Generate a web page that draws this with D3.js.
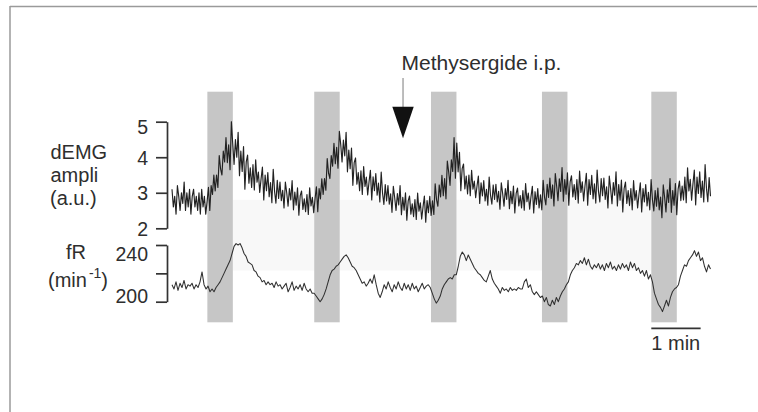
<!DOCTYPE html>
<html>
<head>
<meta charset="utf-8">
<script src="https://cdn.jsdelivr.net/npm/d3@7"></script>
<style>
  html, body { margin: 0; padding: 0; background: #ffffff; }
  svg { display: block; font-family: "Liberation Sans", Arial, Helvetica, sans-serif; }
</style>
</head>
<body>
<svg id="chart" width="758" height="412"></svg>
<script>
// ---------------- data ----------------
const recordingSeconds = 655;
const stimStart = [43, 173, 315, 450, 583];   // seconds
const stimDuration = 31;                      // seconds
const drugTime = 281;                         // seconds
const drugLabel = "Methysergide i.p.";
const bandStartTime = 74;
const bandEndTime = 583;
const scaleBarStart = 583;
const scaleBarSeconds = 60;
const scaleBarLabel = "1 min";

const emgTicks = [2, 3, 4, 5];
const emgTickLabels = ["2", "3", "4", "5"];
const fRTicks = [200, 220, 240];
const fRTickLabels = ["200", "", "240"];

// dEMG amplitude (a.u.), uniformly sampled over the recording
const emgValues = [
  3.1, 2.6, 2.9, 2.4, 3.2, 2.9, 2.5, 3.0, 2.7, 3.3, 2.5, 3.0, 2.6, 3.1, 2.4, 2.9, 3.1, 2.6, 2.9, 2.5,
  3.0, 2.4, 3.1, 2.6, 2.9, 2.4, 2.75, 3.15, 2.5, 3.2, 2.95, 3.5, 3.05, 3.5, 3.15, 4.05, 3.67, 3.5, 4.17, 3.87,
  4.55, 3.85, 4.35, 3.65, 5.0, 4.38, 3.8, 4.5, 4.0, 4.7, 3.48, 4.17, 3.6, 4.3, 3.1, 3.87, 4.06, 3.27, 3.7, 3.15,
  3.79, 3.08, 3.93, 3.3, 3.58, 3.01, 3.39, 3.72, 2.8, 3.5, 3.06, 3.57, 2.89, 3.29, 2.72, 3.66, 3.04, 2.71, 3.35, 2.84,
  3.3, 2.78, 3.07, 2.57, 3.3, 3.0, 2.62, 3.12, 2.8, 3.34, 2.52, 3.02, 2.65, 3.14, 2.37, 2.92, 3.05, 2.53, 2.83, 2.47,
  2.95, 2.39, 3.14, 2.63, 2.87, 2.44, 2.83, 3.17, 2.47, 3.12, 2.83, 3.39, 2.95, 3.4, 3.07, 3.96, 3.55, 3.4, 4.05, 3.75,
  4.39, 3.82, 4.28, 3.69, 4.73, 4.37, 3.87, 4.48, 4.04, 4.7, 3.59, 4.2, 3.68, 4.26, 3.21, 3.85, 3.98, 3.24, 3.57, 3.06,
  3.62, 2.95, 3.74, 3.18, 3.44, 2.94, 3.31, 3.63, 2.8, 3.45, 3.06, 3.54, 2.93, 3.27, 2.74, 3.58, 2.99, 2.67, 3.23, 2.77,
  3.2, 2.68, 2.97, 2.45, 3.18, 2.86, 2.5, 2.98, 2.66, 3.2, 2.38, 2.87, 2.51, 3.0, 2.23, 2.77, 2.91, 2.4, 2.69, 2.33,
  2.81, 2.25, 2.99, 2.48, 2.72, 2.26, 2.6, 2.91, 2.17, 2.78, 2.44, 2.9, 2.36, 2.77, 2.39, 3.25, 2.81, 2.62, 3.22, 2.88,
  3.49, 2.92, 3.4, 2.83, 3.89, 3.59, 3.21, 3.93, 3.6, 4.55, 3.41, 4.4, 3.59, 4.14, 3.06, 3.68, 3.81, 3.11, 3.47, 2.97,
  3.5, 2.92, 3.63, 3.1, 3.33, 2.86, 3.19, 3.47, 2.7, 3.28, 2.91, 3.34, 2.77, 3.1, 2.65, 3.44, 2.93, 2.68, 3.22, 2.81,
  3.24, 2.74, 3.04, 2.54, 3.28, 2.98, 2.62, 3.12, 2.81, 3.35, 2.55, 3.04, 2.69, 3.19, 2.43, 2.98, 3.13, 2.63, 2.92, 2.57,
  3.06, 2.51, 3.26, 2.75, 2.99, 2.54, 2.89, 3.18, 2.43, 3.03, 2.67, 3.12, 2.57, 2.94, 2.52, 3.35, 2.88, 2.66, 3.24, 2.87,
  3.41, 2.84, 3.22, 2.63, 3.54, 3.19, 2.78, 3.39, 3.04, 3.71, 2.76, 3.37, 2.96, 3.56, 2.65, 3.31, 3.48, 2.88, 3.23, 2.81,
  3.37, 2.71, 3.61, 3.01, 3.31, 2.77, 3.19, 3.55, 2.65, 3.37, 2.95, 3.49, 2.83, 3.25, 2.71, 3.64, 3.04, 2.74, 3.4, 2.92,
  3.41, 2.81, 3.17, 2.57, 3.47, 3.11, 2.69, 3.29, 2.93, 3.59, 2.63, 3.23, 2.79, 3.36, 2.46, 3.12, 3.3, 2.7, 3.06, 2.64,
  3.12, 2.52, 3.34, 2.79, 3.06, 2.57, 2.95, 3.28, 2.46, 3.12, 2.74, 3.23, 2.63, 3.01, 2.52, 3.37, 2.8, 2.49, 3.06, 2.62,
  3.13, 2.52, 2.88, 2.3, 3.22, 2.87, 2.46, 3.08, 2.73, 3.4, 2.45, 3.06, 2.65, 3.26, 2.38, 3.1, 3.33, 2.78, 3.19, 2.8,
  3.44, 2.72, 3.7, 3.05, 3.38, 2.79, 3.25, 3.64, 2.66, 3.44, 2.98, 3.59, 2.87, 3.33, 2.74, 3.79, 3.13, 2.75, 3.43, 2.9
];

// respiratory frequency fR (min^-1), uniformly sampled over the recording
const fRValues = [
  212, 209, 214, 208, 213, 210, 215, 209, 212, 211,
  213, 209, 212, 210, 214, 221, 212, 209, 211, 207,
  209, 207, 210, 212, 214, 217, 220, 223, 226, 229,
  234, 239, 241, 240, 241, 238, 234, 232, 228, 227,
  226, 222, 221, 218, 217, 214, 215, 212, 214, 212,
  213, 210, 214, 211, 212, 209, 211, 213, 207, 210,
  214, 208, 211, 209, 212, 208, 213, 209, 207, 209,
  206, 206, 204, 202, 200, 202, 205, 209, 214, 219,
  222, 223, 225, 226, 228, 230, 232, 233, 231, 228,
  225, 224, 222, 219, 216, 213, 214, 211, 213, 216,
  213, 219, 212, 206, 203, 207, 212, 209, 214, 210,
  207, 212, 209, 214, 210, 208, 213, 209, 212, 208,
  213, 209, 211, 207, 210, 213, 209, 211, 212, 210,
  206, 202, 199, 201, 204, 209, 212, 214, 216, 217,
  216, 219, 219, 225, 232, 235, 233, 229, 233, 230,
  227, 224, 222, 220, 219, 217, 215, 214, 218, 222,
  216, 213, 211, 209, 206, 210, 208, 209, 207, 210,
  208, 209, 208, 210, 209, 209, 214, 216, 210, 212,
  207, 205, 207, 205, 203, 204, 200, 203, 198, 197,
  201, 198, 203, 200, 204, 207, 209, 212, 214, 219,
  222, 224, 227, 226, 229, 227, 231, 226, 230, 225,
  223, 226, 224, 227, 223, 226, 222, 227, 224, 228,
  223, 225, 222, 226, 223, 227, 224, 226, 222, 228,
  224, 227, 222, 224, 220, 222, 218, 222, 216, 219,
  214, 206, 202, 198, 196, 193, 197, 201, 197, 203,
  207, 209, 210, 212, 218, 222, 226, 225, 229, 231,
  233, 236, 232, 235, 229, 231, 225, 221, 226, 223
];

// ---------------- drawing ----------------
const svg = d3.select("#chart");
const textColor = "#2e2e2e";
const axisColor = "#333333";

const x = d3.scaleLinear().domain([0, recordingSeconds]).range([172, 710.5]);
const yEMG = d3.scaleLinear().domain([2, 5]).range([228.3, 121.7]);
const yFR = d3.scaleLinear().domain([200, 240]).range([301.7, 245]);

// frame lines of the figure
svg.append("line").attr("x1", 10).attr("x2", 757).attr("y1", 6.5).attr("y2", 6.5)
  .attr("stroke", "#9a9a9a").attr("stroke-width", 1.5);
svg.append("line").attr("x1", 10).attr("x2", 10).attr("y1", 6).attr("y2", 412)
  .attr("stroke", "#9a9a9a").attr("stroke-width", 1.5);

// faint background band
svg.append("rect")
  .attr("x", x(bandStartTime)).attr("width", x(bandEndTime) - x(bandStartTime))
  .attr("y", yEMG(2.8)).attr("height", yFR(222) - yEMG(2.8))
  .attr("fill", "#f8f8f8");

// stimulation bars
svg.append("g").selectAll("rect").data(stimStart).join("rect")
  .attr("x", d => x(d))
  .attr("width", d => x(d + stimDuration) - x(d))
  .attr("y", 91.7)
  .attr("height", 322.3 - 91.7)
  .attr("fill", "#c6c6c6");

// traces
const sampleTime = (n) => (i) => i * recordingSeconds / (n - 1);
const tEMG = sampleTime(emgValues.length);
const tFR = sampleTime(fRValues.length);

svg.append("path")
  .datum(emgValues)
  .attr("fill", "none")
  .attr("stroke", "#222222")
  .attr("stroke-width", 1.15)
  .attr("stroke-linejoin", "round")
  .attr("d", d3.line().x((d, i) => x(tEMG(i))).y(d => yEMG(d)));

svg.append("path")
  .datum(fRValues)
  .attr("fill", "none")
  .attr("stroke", "#303030")
  .attr("stroke-width", 1.05)
  .attr("stroke-linejoin", "round")
  .attr("d", d3.line().x((d, i) => x(tFR(i))).y(d => yFR(d)));

// axes
const axisX = 167;
const emgAxis = d3.axisLeft(yEMG)
  .tickValues(emgTicks)
  .tickFormat((d, i) => emgTickLabels[i])
  .tickSize(11).tickSizeOuter(0).tickPadding(8);
const gE = svg.append("g").attr("transform", `translate(${axisX},0)`).call(emgAxis);

const fRAxis = d3.axisLeft(yFR)
  .tickValues(fRTicks)
  .tickFormat((d, i) => fRTickLabels[i])
  .tickSize(11).tickSizeOuter(0).tickPadding(8);
const gF = svg.append("g").attr("transform", `translate(${axisX},0)`).call(fRAxis);

[gE, gF].forEach(g => {
  g.select(".domain").attr("stroke", axisColor).attr("stroke-width", 1.7);
  g.selectAll(".tick line").attr("stroke", axisColor).attr("stroke-width", 1.7);
  g.selectAll(".tick text")
    .attr("fill", textColor)
    .style("font-size", "19.5px")
    .style("font-family", "'Liberation Sans', Arial, sans-serif");
});
// label offsets as in the original figure
gE.selectAll(".tick text").attr("dy", d => d === 5 ? "0.6em" : "0.36em");
gF.selectAll(".tick text").attr("dy", d => d === 240 ? "0.8em" : "0.06em");

// axis titles
const title = svg.append("g").attr("fill", textColor).style("font-size", "20px");
title.append("text").attr("x", 50.5).attr("y", 159).text("dEMG");
title.append("text").attr("x", 50.5).attr("y", 181.5).text("ampli");
title.append("text").attr("x", 50).attr("y", 205).text("(a.u.)");
title.append("text").attr("x", 66).attr("y", 259).text("fR");
const minT = title.append("text").attr("x", 48).attr("y", 287);
minT.append("tspan").text("(min");
minT.append("tspan").attr("dx", 2).attr("dy", -9).style("font-size", "14px").text("-1");
minT.append("tspan").attr("dy", 9).text(")");

// drug annotation
const ax = x(drugTime);
svg.append("text").attr("x", 401.5).attr("y", 70)
  .attr("fill", textColor).style("font-size", "21px").text(drugLabel);
svg.append("line").attr("x1", ax).attr("x2", ax).attr("y1", 78).attr("y2", 108)
  .attr("stroke", "#7a7a7a").attr("stroke-width", 1);
svg.append("path")
  .attr("d", `M${ax - 10.7},106.7 L${ax + 10.7},106.7 L${ax},138.3 Z`)
  .attr("fill", "#111111");

// scale bar
svg.append("line")
  .attr("x1", x(scaleBarStart)).attr("x2", x(scaleBarStart + scaleBarSeconds))
  .attr("y1", 328.3).attr("y2", 328.3)
  .attr("stroke", axisColor).attr("stroke-width", 1.8);
svg.append("text").attr("x", x(scaleBarStart)).attr("y", 350)
  .attr("fill", textColor).style("font-size", "20px").text(scaleBarLabel);
</script>
</body>
</html>
